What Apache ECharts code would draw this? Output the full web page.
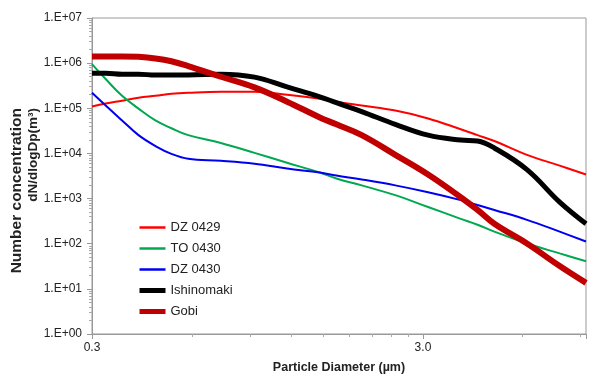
<!DOCTYPE html>
<html><head><meta charset="utf-8">
<script src="https://cdn.jsdelivr.net/npm/echarts@6/dist/echarts.min.js"></script>
<style>html,body{margin:0;padding:0;background:#fff}#c{width:589px;height:379px}</style>
</head><body><div id="c"></div>
<script>
// Particle diameter (µm)
const diameters = [0.30, 0.33, 0.37, 0.415, 0.467, 0.522, 0.587, 0.737, 0.932, 1.17, 1.47, 1.65, 1.97, 2.49, 3.13, 3.93, 4.42, 4.97, 6.24, 7.84, 9.42];
// Number concentration dN/dlogDp (m^-3)
const dz0429     = [1.09e5, 1.27e5, 1.47e5, 1.71e5, 1.89e5, 2.09e5, 2.2e5, 2.31e5, 2.31e5, 1.99e5, 1.63e5, 1.4e5, 1.15e5, 8.9e4, 5.96e4, 3.43e4, 2.54e4, 1.88e4, 9.3e3, 5.36e3, 3.41e3];
const to0430     = [9.5e5, 4.44e5, 1.89e5, 9.85e4, 5.39e4, 3.61e4, 2.54e4, 1.70e4, 1.03e4, 6.23e3, 3.77e3, 2.79e3, 1.96e3, 1.19e3, 650, 356, 263, 185, 101, 61, 41];
const dz0430     = [2.2e5, 1.15e5, 5.39e4, 2.54e4, 1.46e4, 9.8e3, 7.6e3, 6.88e3, 5.92e3, 4.61e3, 3.77e3, 3.24e3, 2.65e3, 1.96e3, 1.38e3, 925, 719, 560, 338, 185, 112];
const ishinomaki = [6.0e5, 6.0e5, 5.71e5, 5.71e5, 5.43e5, 5.43e5, 5.43e5, 5.71e5, 4.91e5, 2.97e5, 1.80e5, 1.33e5, 8.47e4, 4.41e4, 2.54e4, 1.98e4, 1.88e4, 1.32e4, 4.38e3, 835, 277];
const gobi       = [1.41e6, 1.41e6, 1.41e6, 1.38e6, 1.27e6, 1.1e6, 8.6e5, 5.0e5, 2.9e5, 1.40e5, 6.27e4, 4.41e4, 2.54e4, 9.3e3, 3.41e3, 1.07e3, 560, 277, 101, 32, 13.6];

const seriesNames = ['DZ 0429', 'TO 0430', 'DZ 0430', 'Ishinomaki', 'Gobi'];
const xTickLabels = ['0.3', '3.0'];
const yTickLabels = ['1.E+00', '1.E+01', '1.E+02', '1.E+03', '1.E+04', '1.E+05', '1.E+06', '1.E+07'];

const valueSets = [dz0429, to0430, dz0430, ishinomaki, gobi];
const colors = ['#FF0000', '#00A84F', '#0000F0', '#000000', '#C00000'];
const widths = [2, 2, 2, 5, 6];
const legendWidths = [2.5, 2.5, 2.5, 5, 5];
const FONT = '"Liberation Sans", Arial, sans-serif';

const chart = echarts.init(document.getElementById('c'), null, {renderer: 'canvas'});
chart.setOption({
  animation: false,
  backgroundColor: '#fff',
  grid: {left: 92, right: -1, top: 18, bottom: 40, show: true, borderColor: '#999', borderWidth: 1},
  legend: {
    orient: 'vertical', left: 137, top: 221, padding: 0, itemWidth: 26, itemHeight: 14, itemGap: 8,
    itemStyle: {opacity: 0},
    textStyle: {fontFamily: FONT, fontSize: 13, color: '#222'},
    data: seriesNames.map(function (n, k) { return {name: n, lineStyle: {width: legendWidths[k], color: colors[k]}}; })
  },
  xAxis: {
    type: 'log', logBase: 10, min: 0.3, max: 9.42, interval: 1,
    name: 'Particle Diameter (µm)', nameLocation: 'middle', nameGap: 27,
    nameTextStyle: {fontFamily: FONT, fontSize: 12.5, fontWeight: 'bold', color: '#222'},
    axisLine: {show: true, lineStyle: {color: '#999', width: 1}},
    axisTick: {show: true, inside: false, length: 5, lineStyle: {color: '#999'}},
    minorTick: {show: true, splitNumber: 9, length: 3, lineStyle: {color: '#aaa'}},
    splitLine: {show: false},
    axisLabel: {
      fontFamily: FONT, fontSize: 12, color: '#222', margin: 8,
      formatter: function (v) { const s = v.toFixed(1); return xTickLabels.indexOf(s) >= 0 ? s : ''; }
    }
  },
  yAxis: {
    type: 'log', logBase: 10, min: 1, max: 1e7,
    axisLine: {show: true, lineStyle: {color: '#999', width: 1}},
    axisTick: {show: true, inside: false, length: 5, lineStyle: {color: '#999'}},
    minorTick: {show: true, splitNumber: 9, length: 3, lineStyle: {color: '#aaa'}},
    splitLine: {show: false},
    axisLabel: {
      fontFamily: FONT, fontSize: 12, color: '#222', margin: 10,
      formatter: function (v) { const i = Math.round(Math.log10(v)); return yTickLabels[i] || ''; }
    }
  },
  graphic: [
    {type: 'text', x: 17, y: 108, rotation: Math.PI / 2,
     style: {text: 'Number concentration', fontFamily: FONT, fontSize: 15.5, fontWeight: 'bold', fill: '#222', textAlign: 'right', textVerticalAlign: 'middle'}},
    {type: 'text', x: 33, y: 108, rotation: Math.PI / 2,
     style: {text: 'dN/dlogDp(m³)', fontFamily: FONT, fontSize: 13.5, fontWeight: 'bold', fill: '#222', textAlign: 'right', textVerticalAlign: 'middle'}}
  ],
  series: seriesNames.map(function (name, k) {
    return {
      name: name, type: 'line', smooth: 0.4, symbol: 'none',
      lineStyle: {color: colors[k], width: widths[k]},
      itemStyle: {color: colors[k]},
      data: diameters.map(function (d, i) { return [d, valueSets[k][i]]; })
    };
  })
});
</script>
</body></html>
